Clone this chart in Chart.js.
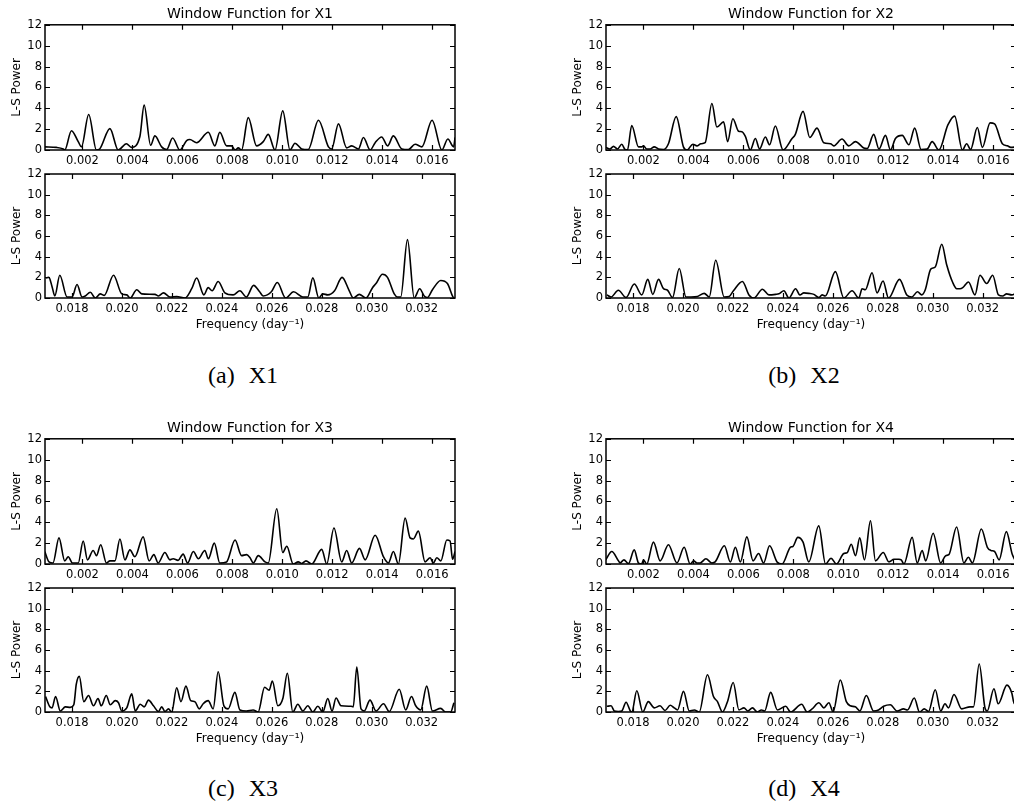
<!DOCTYPE html>
<html>
<head>
<meta charset="utf-8">
<title>Window Functions</title>
<script src="https://cdn.jsdelivr.net/npm/chart.js@4.4.0/dist/chart.umd.min.js"></script>
<style>
    html, body { margin: 0; padding: 0; background: #fff; }
    body { position: relative; width: 1014px; height: 808px; overflow: hidden; }
    canvas { position: absolute; }
    .caption {
        position: absolute; width: 200px; text-align: center;
        font-family: "Liberation Serif", serif; font-size: 24px; line-height: 24px; color: #000;
    }
    .caption span + span { margin-left: 14px; }
</style>
</head>
<body>
<canvas id="x1lo" width="460" height="168" style="left:0;top:0"></canvas>
<canvas id="x1hi" width="460" height="178" style="left:0;top:160px"></canvas>
<canvas id="x2lo" width="460" height="168" style="left:561px;top:0"></canvas>
<canvas id="x2hi" width="460" height="178" style="left:561px;top:160px"></canvas>
<canvas id="x3lo" width="460" height="168" style="left:0;top:414px"></canvas>
<canvas id="x3hi" width="460" height="178" style="left:0;top:574px"></canvas>
<canvas id="x4lo" width="460" height="168" style="left:561px;top:414px"></canvas>
<canvas id="x4hi" width="460" height="178" style="left:561px;top:574px"></canvas>

<div class="caption" style="left:143px;top:363px"><span>(a)</span><span>X1</span></div>
<div class="caption" style="left:704px;top:363px"><span>(b)</span><span>X2</span></div>
<div class="caption" style="left:143px;top:776px"><span>(c)</span><span>X3</span></div>
<div class="caption" style="left:704px;top:776px"><span>(d)</span><span>X4</span></div>

<script>
// Window functions (L-S power).
// Frequencies are stored in units of 1e-3 day^-1.
const FREQ_UNIT = 1e-3;

const freqLoMin = 0.5, freqLoMax = 16.917;
const freqHiMin = 16.917, freqHiMax = 33.333;
const loTicks = [0.002, 0.004, 0.006, 0.008, 0.010, 0.012, 0.014, 0.016];
const hiTicks = [0.018, 0.020, 0.022, 0.024, 0.026, 0.028, 0.030, 0.032];
const powerTicks = [0, 2, 4, 6, 8, 10, 12];

// X1
const freqX1Lo = [0.49,0.96,1.23,1.29,1.56,1.83,1.96,2.25,2.56,2.69,3.10,3.43,3.76,3.96,4.30,4.47,4.73,4.90,5.17,5.37,5.61,5.90,6.17,6.30,6.57,7.04,7.30,7.50,7.77,7.97,8.11,8.24,8.37,8.64,8.97,9.24,9.44,9.71,10.02,10.31,10.51,10.78,11.04,11.45,11.85,11.98,12.25,12.58,12.78,13.05,13.25,13.52,13.72,13.98,14.22,14.45,14.79,15.05,15.32,15.59,16.00,16.39,16.63,16.86,16.92];
const powX1Lo = [0.3,0.25,0.1,0.0,1.85,0.8,0.3,3.4,0.0,0.1,2.05,0.0,0.6,0.25,1.3,4.3,0.45,1.35,0.3,0.05,1.15,0.0,0.9,1.0,0.7,1.7,0.4,1.7,0.4,0.4,0.0,0.2,0.0,3.1,0.4,0.8,1.5,0.0,3.75,0.0,0.65,0.1,0.05,2.85,0.3,0.1,2.5,0.2,0.4,0.1,1.2,0.0,0.7,1.25,0.4,1.35,0.1,0.05,0.55,0.3,2.85,0.0,1.05,0.3,1.2];
const freqX1Hi = [16.94,17.07,17.20,17.31,17.51,17.80,18.00,18.20,18.40,18.53,18.73,18.93,19.13,19.29,19.66,19.99,20.19,20.33,20.59,20.79,21.32,21.46,21.66,21.92,22.19,22.52,22.79,22.99,23.28,23.45,23.61,23.85,24.12,24.45,24.72,24.98,25.27,25.51,25.65,25.98,26.22,26.55,26.87,27.24,27.44,27.64,27.88,28.04,28.24,28.51,28.81,29.10,29.26,29.50,29.77,30.03,30.17,30.43,30.63,30.90,31.03,31.16,31.43,31.70,31.92,32.10,32.23,32.43,32.76,33.03,33.25,33.29];
const powX1Hi = [1.93,2.0,1.1,0.2,2.2,0.1,0.1,1.3,0.1,0.2,0.55,0.0,0.4,0.25,2.2,0.4,0.3,0.0,0.8,0.4,0.35,0.2,0.5,0.1,0.15,0.0,0.9,1.93,0.3,1.0,0.7,1.6,0.5,0.3,0.7,0.1,1.22,0.6,0.2,0.6,1.5,0.0,0.6,0.1,0.1,1.95,0.0,0.4,0.3,0.7,2.0,0.7,0.0,0.35,0.0,1.0,1.4,2.3,2.0,0.4,0.1,0.1,5.65,0.0,0.9,0.2,0.05,0.8,1.7,1.4,0.1,0.0];

// X2
const freqX2Lo = [0.49,0.66,0.80,0.96,1.13,1.26,1.36,1.53,1.80,1.93,2.00,2.13,2.27,2.43,2.60,2.80,3.00,3.31,3.60,3.74,3.98,4.14,4.30,4.47,4.74,4.94,5.21,5.37,5.58,5.81,5.94,6.08,6.28,6.48,6.65,6.88,7.05,7.28,7.59,7.95,8.08,8.39,8.66,8.95,9.22,9.49,9.62,9.95,10.22,10.49,10.82,10.96,11.22,11.43,11.69,11.89,12.09,12.36,12.63,12.86,13.12,13.36,13.56,13.83,14.19,14.46,14.77,14.94,15.10,15.37,15.57,15.88,16.06,16.37,16.57,16.71,16.92];
const powX2Lo = [0.25,0.1,0.35,0.1,0.55,0.05,0.0,2.35,0.3,0.3,0.4,0.1,0.1,0.3,0.1,0.05,0.6,3.2,0.3,0.0,0.55,0.4,0.6,0.7,4.45,2.2,2.7,0.8,3.0,1.8,1.75,1.3,0.0,1.1,0.1,1.25,0.5,2.3,0.0,1.1,1.5,3.7,1.2,2.1,0.7,0.6,0.4,1.05,0.4,0.8,0.2,0.15,1.5,0.1,1.4,0.0,1.1,1.4,0.5,2.1,0.05,0.1,0.8,0.0,2.4,3.25,0.0,0.6,0.05,2.15,0.25,2.6,2.5,0.6,0.4,0.25,0.3];
const freqX2Hi = [16.95,17.12,17.41,17.72,18.05,18.35,18.59,18.79,19.02,19.22,19.38,19.58,19.85,20.12,20.32,20.58,20.85,21.05,21.31,21.65,21.85,22.02,22.38,22.64,22.84,23.18,23.44,23.71,23.84,24.04,24.24,24.51,24.68,24.84,25.04,25.24,25.44,25.57,25.70,26.10,26.44,26.77,27.04,27.17,27.30,27.57,27.77,28.01,28.23,28.67,28.96,29.16,29.39,29.56,29.70,29.92,30.10,30.36,30.56,30.80,30.96,31.09,31.20,31.43,31.69,31.89,32.16,32.40,32.63,32.80,32.96,33.16,33.33];
const powX2Hi = [0.3,0.1,0.75,0.05,1.35,0.3,1.8,0.35,1.8,0.9,0.75,0.05,2.85,0.1,0.1,0.15,0.45,0.1,3.65,0.1,0.15,0.7,1.6,0.3,0.0,0.85,0.3,0.35,0.4,0.7,0.0,0.9,0.3,0.5,0.45,0.35,0.05,0.3,0.2,2.55,0.0,0.7,0.0,0.9,0.8,2.45,0.5,1.65,0.0,1.8,0.3,0.1,0.6,0.3,0.8,2.8,3.0,5.2,3.2,1.5,0.9,0.9,1.0,1.55,0.3,2.2,1.4,2.2,0.3,0.2,0.4,0.3,0.45];

// X3
const freqX3Lo = [0.49,0.66,0.82,1.06,1.29,1.43,1.60,1.83,2.03,2.20,2.43,2.56,2.73,2.96,3.10,3.30,3.50,3.70,3.90,4.10,4.43,4.67,4.86,5.03,5.30,5.50,5.63,5.83,6.03,6.21,6.44,6.64,6.90,7.04,7.28,7.50,7.77,8.11,8.37,8.57,8.71,8.84,9.04,9.31,9.44,9.78,10.02,10.18,10.44,10.64,10.78,10.95,11.18,11.58,11.78,12.07,12.38,12.58,12.78,13.09,13.32,13.72,14.05,14.25,14.45,14.65,14.92,15.12,15.25,15.45,15.72,15.92,16.05,16.19,16.35,16.59,16.72,16.82,16.92];
const powX3Lo = [1.2,0.2,0.1,2.5,0.3,0.7,0.1,0.1,2.2,0.4,1.3,0.8,1.85,0.1,0.3,0.3,2.4,0.4,1.35,0.7,2.6,0.3,0.9,0.1,1.1,0.4,0.5,0.35,0.95,0.1,1.2,0.5,1.3,0.5,2.0,0.1,0.2,2.3,0.8,0.9,0.6,0.1,0.8,0.2,0.1,5.3,1.1,1.7,0.0,0.2,0.05,0.3,0.0,1.4,0.0,3.45,0.2,1.3,0.1,1.5,0.4,2.75,0.7,0.1,1.2,0.0,4.4,2.5,2.4,3.15,0.2,0.6,0.1,0.6,0.3,2.3,2.2,0.45,1.2];
const freqX3Hi = [16.94,17.11,17.20,17.34,17.53,17.73,17.93,18.07,18.17,18.29,18.47,18.66,18.86,19.04,19.17,19.37,19.53,19.73,19.86,19.99,20.19,20.39,20.53,20.73,20.89,21.06,21.26,21.46,21.59,21.72,21.86,21.99,22.19,22.36,22.56,22.75,22.92,23.09,23.25,23.45,23.65,23.85,24.08,24.25,24.52,24.72,24.98,25.25,25.45,25.71,25.89,26.02,26.24,26.44,26.62,26.84,27.04,27.24,27.44,27.64,27.84,28.04,28.24,28.41,28.57,28.77,29.17,29.26,29.40,29.57,29.70,29.93,30.17,30.47,30.70,31.10,31.36,31.59,31.76,31.96,32.20,32.43,32.76,32.96,33.16,33.29];
const powX3Hi = [1.5,0.5,0.4,1.5,0.1,0.5,0.45,0.7,2.7,3.45,1.0,1.6,0.6,1.3,0.6,1.6,0.7,1.1,0.9,0.1,0.4,1.75,0.1,0.75,0.5,1.15,0.6,0.05,0.5,0.05,0.3,0.0,2.35,1.0,2.5,1.1,1.0,0.3,0.8,1.1,0.3,3.9,0.6,0.3,1.9,0.2,0.1,0.2,0.0,2.4,2.1,3.0,0.6,1.3,3.75,0.0,0.75,0.1,0.6,0.0,0.55,0.0,1.3,0.1,1.35,0.6,0.55,0.5,4.35,0.3,0.1,1.15,0.1,0.8,0.05,2.2,0.2,1.5,0.6,0.2,2.5,0.1,0.35,0.0,0.0,0.9];

// X4
const freqX4Lo = [0.49,0.73,1.00,1.06,1.22,1.40,1.63,1.80,1.93,2.00,2.13,2.40,2.67,3.00,3.34,3.63,3.87,4.01,4.14,4.27,4.50,4.74,4.87,5.24,5.48,5.68,5.88,6.14,6.39,6.61,6.81,7.05,7.35,7.55,7.88,7.99,8.18,8.39,8.62,9.02,9.29,9.51,9.73,10.02,10.16,10.32,10.49,10.66,10.85,11.09,11.29,11.60,11.83,12.03,12.23,12.32,12.43,12.76,12.96,13.16,13.30,13.60,13.90,14.10,14.23,14.54,14.83,15.01,15.17,15.53,15.77,15.91,16.06,16.24,16.53,16.77,16.92];
const powX4Lo = [0.4,1.2,0.3,0.1,0.4,0.05,1.35,0.1,0.0,0.4,0.0,2.1,0.3,1.85,0.1,1.6,0.0,0.3,0.1,0.1,0.5,0.1,0.2,1.75,0.2,1.6,0.2,2.6,0.3,1.0,0.1,1.75,0.2,0.0,1.6,1.7,2.55,2.1,0.2,3.65,0.0,0.55,0.0,1.0,1.1,1.9,0.8,2.5,0.4,4.15,0.3,1.1,0.2,0.45,0.45,0.4,0.0,2.55,0.1,1.3,0.3,2.95,0.1,0.8,0.9,3.55,0.1,0.65,0.1,3.35,1.6,1.3,1.2,0.4,3.1,0.9,0.2];
const freqX4Hi = [16.95,17.12,17.25,17.41,17.55,17.72,17.89,17.95,18.15,18.39,18.61,18.85,19.08,19.28,19.49,19.65,19.78,20.02,20.25,20.45,20.65,20.98,21.22,21.38,21.58,21.78,22.01,22.24,22.44,22.60,22.78,22.98,23.14,23.27,23.51,23.78,24.11,24.31,24.75,24.97,25.17,25.44,25.64,25.84,26.01,26.30,26.54,26.70,26.90,27.08,27.34,27.63,27.83,28.03,28.30,28.57,28.83,28.99,29.26,29.47,29.66,29.83,30.10,30.32,30.49,30.63,30.85,31.16,31.49,31.63,31.86,32.09,32.18,32.45,32.62,32.97,33.17,33.26,33.33];
const powX4Hi = [0.55,0.6,0.1,0.05,0.1,0.95,0.1,0.0,2.05,0.0,1.0,0.4,0.6,0.15,0.65,0.4,0.2,2.0,0.1,0.2,0.0,3.6,1.5,1.0,0.0,1.0,2.85,0.2,0.4,0.1,0.4,0.0,0.2,0.1,1.9,0.2,0.55,0.0,0.75,0.0,0.3,0.9,0.4,0.9,0.0,3.1,1.0,0.6,0.5,0.1,1.6,0.1,0.2,0.55,0.7,0.1,0.3,0.2,1.35,0.0,0.3,0.05,2.15,0.1,0.8,0.4,1.7,0.3,0.5,0.5,4.65,0.4,0.1,2.25,0.8,2.6,1.8,0.8,0.8];

Chart.defaults.font.family = 'DejaVu Sans';
Chart.defaults.color = '#000';

// matplotlib style box: full frame with inward ticks on all four sides
const boxTicks = {
    id: 'boxTicks',
    afterDraw(chart) {
        const { ctx, chartArea: a, scales: { x, y } } = chart;
        const len = 5;
        ctx.save();
        ctx.strokeStyle = '#000';
        ctx.lineWidth = 1.2;
        ctx.beginPath();
        x.ticks.forEach(t => {
            const px = Math.round(x.getPixelForValue(t.value)) + 0.5;
            ctx.moveTo(px, a.bottom); ctx.lineTo(px, a.bottom - len);
            ctx.moveTo(px, a.top); ctx.lineTo(px, a.top + len);
        });
        y.ticks.forEach(t => {
            const py = Math.round(y.getPixelForValue(t.value)) + 0.5;
            ctx.moveTo(a.left, py); ctx.lineTo(a.left + len, py);
            ctx.moveTo(a.right, py); ctx.lineTo(a.right - len, py);
        });
        ctx.stroke();
        ctx.lineWidth = 1.5;
        ctx.strokeRect(a.left, a.top, a.right - a.left, a.bottom - a.top);
        ctx.restore();
    }
};

function makePanel(id, freqs, powers, isLow, title) {
    const ctx = document.getElementById(id);
    const points = freqs.map((f, i) => ({ x: f * FREQ_UNIT, y: powers[i] }));
    const xTicks = isLow ? loTicks : hiTicks;

    new Chart(ctx, {
        type: 'line',
        data: {
            datasets: [{
                data: points,
                borderColor: '#000',
                borderWidth: 1.6,
                pointRadius: 0,
                fill: false,
                cubicInterpolationMode: 'monotone'
            }]
        },
        options: {
            responsive: false,
            animation: false,
            layout: { padding: { top: title ? 0 : 14, right: 5, left: 0, bottom: 0 } },
            plugins: {
                legend: { display: false },
                tooltip: { enabled: false },
                title: {
                    display: !!title,
                    text: title,
                    fullSize: false,
                    font: { size: 14, weight: 'normal' },
                    padding: { top: 6, bottom: 2 }
                }
            },
            scales: {
                x: {
                    type: 'linear',
                    min: (isLow ? freqLoMin : freqHiMin) * FREQ_UNIT,
                    max: (isLow ? freqLoMax : freqHiMax) * FREQ_UNIT,
                    afterBuildTicks: scale => { scale.ticks = xTicks.map(v => ({ value: v })); },
                    afterFit: scale => { scale.height = isLow ? 18 : 40; },
                    grid: { display: false, drawTicks: false },
                    border: { display: false },
                    ticks: {
                        padding: 4,
                        maxRotation: 0,
                        font: { size: 11.5 },
                        callback: v => v.toFixed(3)
                    },
                    title: {
                        display: !isLow,
                        text: 'Frequency (day\u207B\u00B9)',
                        font: { size: 12 },
                        padding: { top: 0, bottom: 6 }
                    }
                },
                y: {
                    min: 0,
                    max: 12,
                    afterBuildTicks: scale => { scale.ticks = powerTicks.map(v => ({ value: v })); },
                    afterFit: scale => { scale.width = 45; },
                    grid: { display: false, drawTicks: false },
                    border: { display: false },
                    ticks: { padding: 3, font: { size: 11.5 } },
                    title: {
                        display: true,
                        text: 'L-S Power',
                        font: { size: 12 },
                        padding: { top: 9.3, bottom: 0 }
                    }
                }
            }
        },
        plugins: [boxTicks]
    });
}

makePanel('x1lo', freqX1Lo, powX1Lo, true, 'Window Function for X1');
makePanel('x1hi', freqX1Hi, powX1Hi, false, '');
makePanel('x2lo', freqX2Lo, powX2Lo, true, 'Window Function for X2');
makePanel('x2hi', freqX2Hi, powX2Hi, false, '');
makePanel('x3lo', freqX3Lo, powX3Lo, true, 'Window Function for X3');
makePanel('x3hi', freqX3Hi, powX3Hi, false, '');
makePanel('x4lo', freqX4Lo, powX4Lo, true, 'Window Function for X4');
makePanel('x4hi', freqX4Hi, powX4Hi, false, '');
</script>
</body>
</html>
